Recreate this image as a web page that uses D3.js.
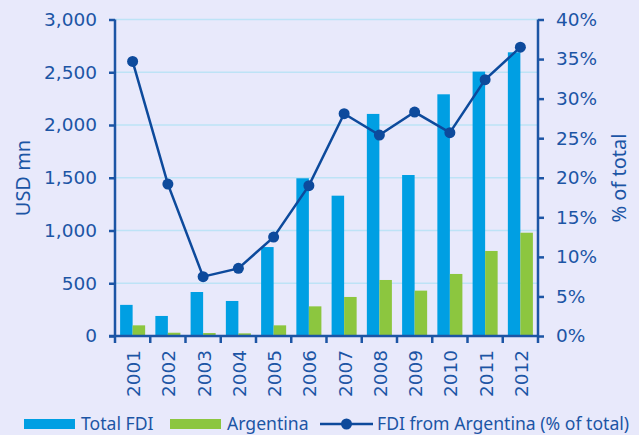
<!DOCTYPE html>
<html>
<head>
<meta charset="utf-8">
<script src="https://cdn.jsdelivr.net/npm/d3@7"></script>
<style>
	body { margin: 0; background: #e8e9fb; }
	text { font-family: "Noto Sans", "Open Sans", sans-serif; fill: #1c55a5; }
</style>
</head>
<body>
<div id="chart"></div>
<script>
// dati
var years = ["2001","2002","2003","2004","2005","2006","2007","2008","2009","2010","2011","2012"]
var totalFdi = [295, 190, 417, 332, 843, 1495, 1330, 2105, 1526, 2291, 2506, 2689]
var argentina = [101, 31, 28, 25, 101, 281, 370, 531, 430, 588, 806, 979]
var shareArg = [34.7, 19.2, 7.5, 8.55, 12.5, 19.0, 28.1, 25.4, 28.3, 25.7, 32.4, 36.5]
var leftTicks = [0, 500, 1000, 1500, 2000, 2500, 3000]
var rightTicks = [0, 5, 10, 15, 20, 25, 30, 35, 40]

var width = 639, height = 435
var margin = {top: 19.5, right: 101, bottom: 99, left: 115}
var innerW = width - margin.left - margin.right,
	innerH = height - margin.top - margin.bottom

var axisColor = "#1c55a5", lineColor = "#0d4a9c"
var colors = {total: "#009fe3", arg: "#8cc63f"}
var numFont = "DejaVu Sans"

var svg = d3.select("#chart").append("svg")
	.attr("width", width)
	.attr("height", height)

svg.append("rect").attr("width", width).attr("height", height).attr("fill", "#e8e9fb")

var g = svg.append("g").attr("transform", "translate(" + margin.left + "," + margin.top + ")")

var x = d3.scaleBand().domain(years).range([0, innerW]).paddingInner(0.29).paddingOuter(0.145)
var x1 = d3.scaleBand().domain(["total","arg"]).range([0, x.bandwidth()])
var y = d3.scaleLinear().domain([0, 3000]).range([innerH, 0])
var y2 = d3.scaleLinear().domain([0, 40]).range([innerH, 0])

// griglia
g.append("g").selectAll("line")
	.data(leftTicks.slice(1))
	.enter().append("line")
	.attr("x1", 0).attr("x2", innerW)
	.attr("y1", function(d){ return y(d) }).attr("y2", function(d){ return y(d) })
	.attr("stroke", "#bde3f6").attr("stroke-width", 1.5)

// barre
var data = years.map(function(d, i){ return {year: d, total: totalFdi[i], arg: argentina[i], share: shareArg[i]} })

var groups = g.append("g").selectAll("g")
	.data(data).enter().append("g")
	.attr("transform", function(d){ return "translate(" + x(d.year) + ",0)" })

groups.selectAll("rect")
	.data(function(d){ return [{k: "total", v: d.total}, {k: "arg", v: d.arg}] })
	.enter().append("rect")
	.attr("x", function(d){ return x1(d.k) })
	.attr("width", x1.bandwidth())
	.attr("y", function(d){ return y(d.v) })
	.attr("height", function(d){ return innerH - y(d.v) })
	.attr("fill", function(d){ return colors[d.k] })

// assi
var leftAxis = d3.axisLeft(y).tickValues(leftTicks).tickFormat(d3.format(",")).tickSize(6).tickPadding(12)
var rightAxis = d3.axisRight(y2).tickValues(rightTicks).tickFormat(function(d){ return d + "%" }).tickSize(6).tickPadding(12)

var xAxisG = g.append("g").attr("transform", "translate(0," + innerH + ")")
xAxisG.append("line").attr("x1", -6).attr("x2", innerW).attr("stroke", axisColor).attr("stroke-width", 2.5)
xAxisG.selectAll(".tk")
	.data(d3.range(years.length + 1))
	.enter().append("line")
	.attr("x1", function(i){ return i * x.step() }).attr("x2", function(i){ return i * x.step() })
	.attr("y1", 0).attr("y2", 7)
	.attr("stroke", axisColor).attr("stroke-width", 2.5)
xAxisG.selectAll("text")
	.data(years).enter().append("text")
	.attr("transform", function(d){ return "translate(" + (x(d) + x.bandwidth() / 2 + 1) + ",14) rotate(-90)" })
	.attr("text-anchor", "end")
	.attr("dy", "0.35em")
	.style("font-size", "18.5px")
	.style("font-family", numFont)
	.text(function(d){ return d })

var lAx = g.append("g").call(leftAxis)
var rAx = g.append("g").attr("transform", "translate(" + innerW + ",0)").call(rightAxis)
;[lAx, rAx].forEach(function(a){
	a.select(".domain").attr("stroke", axisColor).attr("stroke-width", 2.5)
	a.selectAll(".tick line").attr("stroke", axisColor).attr("stroke-width", 2.5)
	a.selectAll(".tick text").style("font-size", "18.5px").style("font-family", numFont).attr("fill", axisColor)
})
lAx.select(".domain").attr("d", "M0," + (innerH + 1) + "V0")
rAx.select(".domain").attr("d", "M0," + (innerH + 1) + "V0")

// linea
var line = d3.line()
	.x(function(d){ return x(d.year) + x.bandwidth() / 2 })
	.y(function(d){ return y2(d.share) })

g.append("path").datum(data)
	.attr("d", line)
	.attr("fill", "none").attr("stroke", lineColor).attr("stroke-width", 2.5)

g.append("g").selectAll("circle")
	.data(data).enter().append("circle")
	.attr("cx", function(d){ return x(d.year) + x.bandwidth() / 2 })
	.attr("cy", function(d){ return y2(d.share) })
	.attr("r", 5.5)
	.attr("fill", lineColor)

// titoli assi
svg.append("text")
	.attr("transform", "translate(30,178) rotate(-90)")
	.attr("text-anchor", "middle")
	.style("font-size", "20px")
	.text("USD mn")
svg.append("text")
	.attr("transform", "translate(626,178) rotate(-90)")
	.attr("text-anchor", "middle")
	.style("font-size", "20px")
	.text("% of total")

// legenda
var leg = svg.append("g").attr("transform", "translate(0,424)")
leg.append("rect").attr("x", 24).attr("y", -5).attr("width", 51).attr("height", 10).attr("fill", colors.total)
leg.append("text").attr("x", 81).attr("dy", "0.35em").style("font-size", "17.6px").text("Total FDI")
leg.append("rect").attr("x", 170).attr("y", -5).attr("width", 51).attr("height", 10).attr("fill", colors.arg)
leg.append("text").attr("x", 227).attr("dy", "0.35em").style("font-size", "17.6px").text("Argentina")
leg.append("line").attr("x1", 320).attr("x2", 373).attr("stroke", lineColor).attr("stroke-width", 2.5)
leg.append("circle").attr("cx", 346.5).attr("r", 5.5).attr("fill", lineColor)
leg.append("text").attr("x", 377).attr("dy", "0.35em").style("font-size", "17.6px").text("FDI from Argentina (% of total)")
</script>
</body>
</html>
